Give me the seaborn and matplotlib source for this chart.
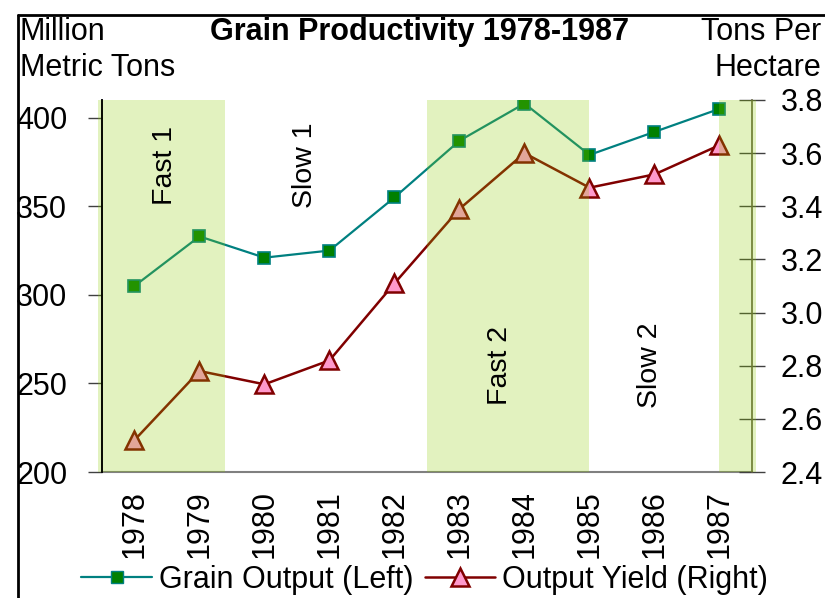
import numpy as np
import pandas as pd
import matplotlib
matplotlib.use("Agg")
import matplotlib.pyplot as plt
import seaborn as sns
from matplotlib.lines import Line2D

# Data
years = ["1978", "1979", "1980", "1981", "1982", "1983", "1984", "1985", "1986", "1987"]
grain_output = [305, 333, 321, 325, 355, 387, 408, 379, 392, 405]      # million metric tons
output_yield = [2.52, 2.78, 2.73, 2.82, 3.11, 3.39, 3.60, 3.47, 3.52, 3.63]  # tons per hectare
phase_names = ["Fast 1", "Slow 1", "Fast 2", "Slow 2"]

df = pd.DataFrame({"year": years, "grain": grain_output, "yield": output_yield})

sns.set_style("white")
plt.rcParams["font.family"] = ["Liberation Sans", "DejaVu Sans"]
plt.rcParams["text.color"] = "black"
plt.rcParams["xtick.labelcolor"] = "black"
plt.rcParams["ytick.labelcolor"] = "black"

FS = 22

fig = plt.figure(figsize=(8.25, 5.98), dpi=100)
ax = fig.add_axes([0.1236, 0.2107, 0.7879, 0.6221])
ax2 = ax.twinx()

teal = "#008080"
dred = "#800000"

sns.lineplot(data=df, x="year", y="grain", ax=ax, sort=False, color=teal, linewidth=1.6,
             marker="s", markersize=8, markerfacecolor="#008000", markeredgecolor=teal,
             markeredgewidth=1.2, zorder=3)
sns.lineplot(data=df, x="year", y="yield", ax=ax2, sort=False, color=dred, linewidth=1.8,
             marker="^", markersize=13, markerfacecolor="#ff99cc", markeredgecolor=dred,
             markeredgewidth=1.8, zorder=3)

# shaded phases drawn over the lines
for x0, x1 in [(-0.56, 1.39), (4.5, 7.0), (9.0, 9.56)]:
    ax2.axvspan(x0, x1, color=(0.55, 0.8, 0.0), alpha=0.25, lw=0, zorder=5, clip_on=False)

ax.set_xlim(-0.5, 9.5)
ax.set_ylim(200, 410)
ax2.set_ylim(2.4, 3.8)
ax.set_yticks([200, 250, 300, 350, 400])
ax2.set_yticks(np.arange(2.4, 3.81, 0.2))
ax2.set_yticklabels([f"{v:.1f}" for v in np.arange(2.4, 3.81, 0.2)])

ax.set_xticks(range(len(years)))
ax.set_xticklabels(years, rotation=90)
ax.set_xticks(np.arange(-0.5, 10, 1), minor=True)
ax.tick_params(axis="x", which="major", length=0, pad=13, labelsize=FS)
ax.tick_params(axis="x", which="minor", length=10, width=1.2, color="#707070", direction="out")
ax.tick_params(axis="y", length=10, width=1, color="#404040", direction="out", pad=15, labelsize=FS)
ax2.tick_params(axis="y", length=19, width=1, color="#404040", direction="inout", pad=11, labelsize=FS)

for a in (ax, ax2):
    a.set_xlabel("")
    a.set_ylabel("")
    a.spines["top"].set_visible(False)
ax.spines["left"].set_color("black")
ax.spines["left"].set_linewidth(1.2)
ax.spines["left"].set_zorder(6)
ax.spines["bottom"].set_color("#808080")
ax.spines["bottom"].set_linewidth(1.5)
ax.spines["right"].set_visible(False)
ax2.spines["left"].set_color("black")
ax2.spines["left"].set_linewidth(1.2)
ax2.spines["left"].set_zorder(6)
ax2.spines["bottom"].set_visible(False)
ax2.spines["right"].set_color("#606040")
ax2.spines["right"].set_linewidth(1.2)

# phase labels (placed on the yield axis so they sit above the shading)
for name, xp, yp in zip(phase_names, [0.47, 2.62, 5.62, 7.93], [3.553, 3.553, 2.80, 2.80]):
    ax2.text(xp, yp, name, rotation=90, ha="center", va="center", fontsize=20.5,
             color="black", zorder=7)

# header texts
fig.text(0.509, 0.946, "Grain Productivity 1978-1987", ha="center", va="center",
         fontsize=FS, fontweight="bold")
fig.text(0.024, 0.946, "Million", ha="left", va="center", fontsize=FS)
fig.text(0.024, 0.886, "Metric Tons", ha="left", va="center", fontsize=FS)
fig.text(0.996, 0.946, "Tons Per", ha="right", va="center", fontsize=FS)
fig.text(0.996, 0.886, "Hectare", ha="right", va="center", fontsize=FS)

# outer frame (cropped chart border)
fig.add_artist(Line2D([0.0218, 0.0218], [0.0, 0.975], color="black", lw=2))
fig.add_artist(Line2D([0.0218, 1.0], [0.975, 0.975], color="black", lw=2))

handles = [
    Line2D([], [], color=teal, lw=1.6, marker="s", markersize=8, markerfacecolor="#008000",
           markeredgecolor=teal),
    Line2D([], [], color=dred, lw=1.8, marker="^", markersize=13, markerfacecolor="#ff99cc",
           markeredgecolor=dred, markeredgewidth=1.8),
]
fig.legend(handles, ["Grain Output (Left)", "Output Yield (Right)"], loc="center",
           bbox_to_anchor=(0.515, 0.03), ncol=2, frameon=False, fontsize=FS,
           handlelength=2.3, handletextpad=0.25, columnspacing=0.35, borderpad=0.1)

fig.savefig("out.png", dpi=100)
